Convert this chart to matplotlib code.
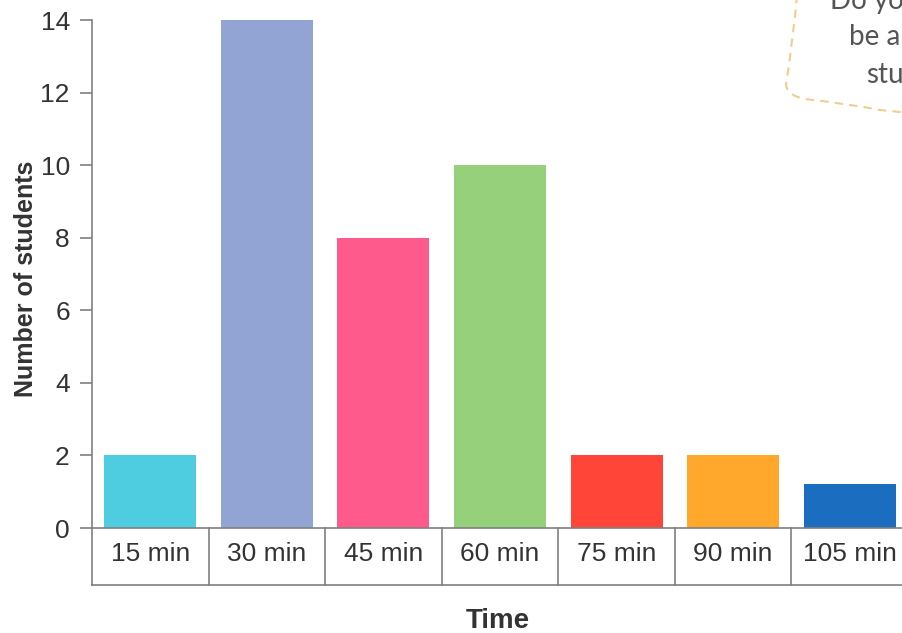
import matplotlib
matplotlib.use("Agg")
import matplotlib.pyplot as plt
import matplotlib.transforms as mtransforms
from matplotlib.path import Path
from matplotlib.patches import PathPatch

# ---- data ----
categories = ["15 min", "30 min", "45 min", "60 min", "75 min", "90 min", "105 min"]
students = [2, 14, 8, 10, 2, 2, 1.2]
bar_colors = ["#4ECDE0", "#91A4D4", "#FF5A8C", "#96D07A", "#FF4438", "#FFA82B", "#1A6DBF"]
y_ticks = [0, 2, 4, 6, 8, 10, 12, 14]
x_title = "Time"
y_title = "Number of students"
bubble_lines = ["Do yo", "be a", "stu"]

W, H = 903, 633
plt.rcParams['font.family'] = ['Liberation Sans', 'DejaVu Sans']
fig = plt.figure(figsize=(W / 100, H / 100), dpi=100)

def fx(px):
    return px / W

def fy(py):
    return 1 - py / H

left_px, right_px, top_px, bottom_px = 92, 908, 20, 528
ax = fig.add_axes([fx(left_px), fy(bottom_px), fx(right_px - left_px), (bottom_px - top_px) / H])

grey = "#808080"
text_col = "#333333"

xs = list(range(len(categories)))
ax.bar(xs, students, width=0.79, color=bar_colors, zorder=2)

ax.set_xlim(-0.5, len(categories) - 0.5)
ax.set_ylim(0, 14)
ax.set_yticks(y_ticks)
ax.set_yticklabels([str(t) for t in y_ticks])
ax.set_xticks(xs)
ax.set_xticklabels(categories)

for s in ["top", "right"]:
    ax.spines[s].set_visible(False)
ax.spines["left"].set_color(grey)
ax.spines["bottom"].set_color(grey)
ax.spines["left"].set_linewidth(1.2)
ax.spines["bottom"].set_linewidth(1.2)

ax.tick_params(axis="y", length=9, width=1.2, color=grey, labelsize=19, labelcolor=text_col, pad=7)
ax.tick_params(axis="x", length=0, labelsize=19, labelcolor=text_col, pad=10)

# table-like box below axis
trans = mtransforms.blended_transform_factory(ax.transData, ax.transAxes)
box_depth = -(585 - bottom_px) / (bottom_px - top_px)
for i in range(len(categories) + 1):
    ax.plot([i - 0.5, i - 0.5], [0, box_depth], transform=trans, color=grey, lw=1.2, clip_on=False)
ax.plot([-0.5, len(categories) - 0.5], [box_depth, box_depth], transform=trans,
        color=grey, lw=1.2, clip_on=False)

ax.set_xlabel(x_title, fontsize=20, fontweight="bold", color=text_col)
ax.xaxis.set_label_coords(0.4975, -0.157)
ax.set_ylabel(y_title, fontsize=18, fontweight="bold", color=text_col)
ax.yaxis.set_label_coords(-0.066, 0.49)

# speech bubble (partially visible, top-right)
pts_px = [(797, -5), (793, 40), (786, 85), (788, 96), (805, 99),
          (850, 104), (880, 110), (910, 113)]
codes = [Path.MOVETO, Path.CURVE3, Path.CURVE3, Path.CURVE3, Path.CURVE3,
         Path.CURVE3, Path.CURVE3, Path.LINETO]
verts = [(fx(x), fy(y)) for x, y in pts_px]
path = Path(verts, codes)
fig.patches.append(PathPatch(path, transform=fig.transFigure, fill=False,
                             edgecolor="#F2CD8C", lw=1.5, linestyle=(0, (4, 3))))
bubble_pos = [(830, 9), (849, 45), (866, 83)]
for txt, (x, y) in zip(bubble_lines, bubble_pos):
    fig.text(fx(x), fy(y), txt, fontsize=20, color="#555555", ha="left", va="baseline",
             family=["Lato", "DejaVu Sans"])

fig.savefig("out.png", dpi=100)
